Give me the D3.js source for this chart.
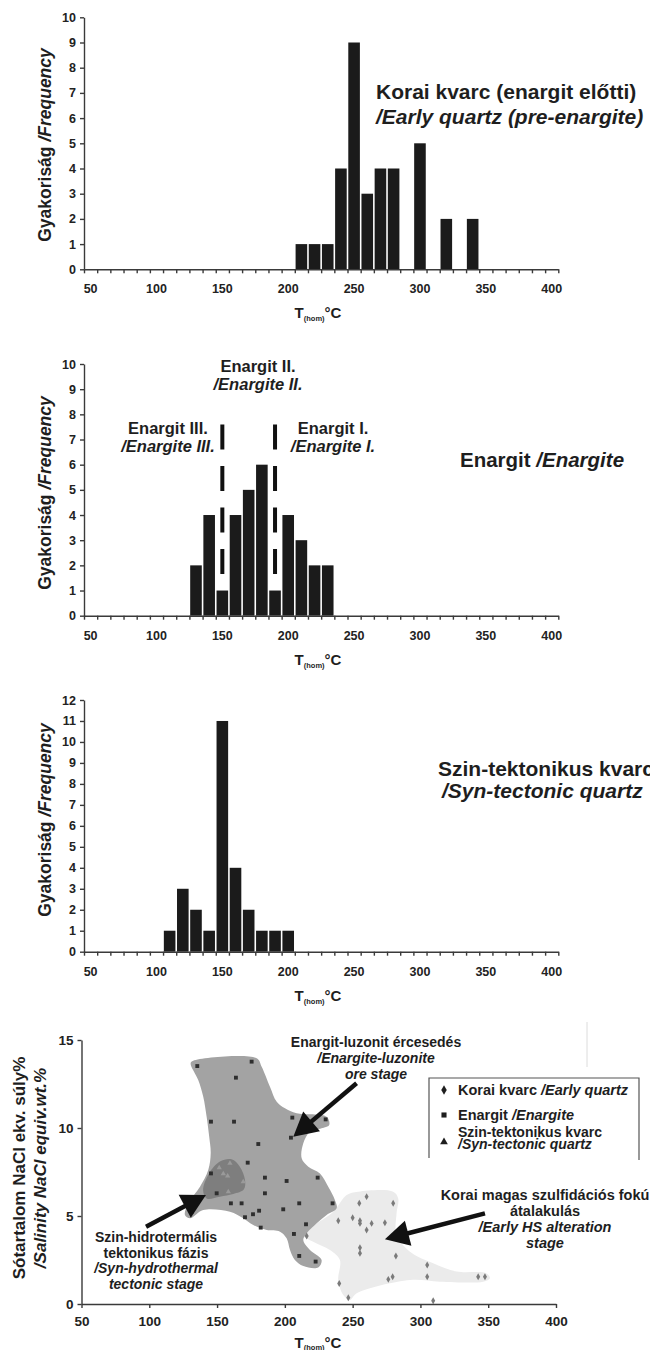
<!DOCTYPE html>
<meta charset="utf-8">
<style>
  body { margin: 0; background: #fff; }
  svg { display: block; font-family: 'Liberation Sans', Arial, sans-serif; font-weight: bold; fill: #1e1e1e; }
  .axis path, .axis line { stroke: #3a3a3a; stroke-width: 1.4; }
  .axis text { font-family: 'Liberation Sans', Arial, sans-serif; font-weight: bold; font-size: 12.5px; fill: #222; }
  .it { font-style: italic; }
</style>
<script src="https://d3js.org/d3.v7.min.js"></script>
<body>
<div id="chart"></div>
<script>
  // histogram categories, T(hom) °C
  let binLabels = [50,60,70,80,90,100,110,120,130,140,150,160,170,180,190,200,210,220,230,240,250,260,270,280,290,300,310,320,330,340,350,360,370,380,390,400];
  let tickLabels = [50,100,150,200,250,300,350,400];

  // korai kvarc / early quartz
  let earlyBins = [210,220,230,240,250,260,270,280,300,320,340];
  let earlyFreq = [1,1,1,4,9,3,4,4,5,2,2];

  // enargit / enargite
  let enargiteBins = [130,140,150,160,170,180,190,200,210,220,230];
  let enargiteFreq = [2,4,1,4,5,6,1,4,3,2,2];
  let stageDividers = [150, 190];

  // szin-tektonikus kvarc / syn-tectonic quartz
  let synBins = [110,120,130,140,150,160,170,180,190,200];
  let synFreq = [1,3,2,1,11,4,2,1,1,1];

  // salinity vs T(hom) scatter: [T, wt%]
  let quartzPts = [[260.3,6.1],[254.9,5.72],[279.9,5.72],[239.4,4.73],[250,4.9],[255.4,4.73],[255.4,4.58],[264,4.58],[273.8,4.62],[260.3,4.2],[216.1,3.86],[255.4,3.2],[255.4,2.88],[281.9,2.73],[305,2.22],[305,1.55],[279.5,1.55],[276.3,1.4],[342.6,1.55],[347.6,1.55],[240.1,1.17],[246.8,0.36],[309.4,0.19]];
  let enargitePts = [[135.4,13.52],[175.5,13.77],[163.9,12.86],[145.5,10.36],[162.5,10.36],[205.5,10.59],[230.1,10.49],[204.5,9.45],[180.4,9.09],[172.6,8.03],[145.5,7.42],[185.3,7.18],[201.3,6.99],[224.2,7.18],[131.3,5.25],[160.2,5.72],[168.1,5.72],[185.3,6.29],[210.6,5.72],[235.2,5.72],[198.8,5.38],[176.5,5.1],[181,5.3],[170.6,4.93],[215.6,4.53],[182.2,4.34],[206.7,3.98],[210.6,2.73],[222.7,2.41],[149.7,6.29]];
  let synPts = [[151.6,7.74],[159.5,8.0],[154.6,7.4],[157.8,7.27],[169.3,6.95],[158.3,6.38]];

  // field outlines
  let hsZone = [[213.6,3.92],[235.7,5.24],[245.6,6.19],[254.1,6.38],[279.9,6.38],[283.6,6.0],[282.4,5.15],[282.4,3.92],[292.3,2.97],[309.4,2.31],[326.7,1.84],[348.8,1.74],[351.3,1.46],[346.3,1.27],[314.4,1.27],[292.3,1.36],[253,0.61],[248,0.23],[243.1,0.51],[239.4,1.36],[240.6,2.5],[233.3,3.07],[220.9,3.54]];
  let oreZone = [[130.5,13.68],[132.4,13.82],[179.2,13.96],[182.9,13.48],[189,12.35],[194,11.49],[200.1,11.12],[208.7,10.84],[230.8,10.64],[232.7,10.17],[227.1,9.98],[218.5,9.79],[213.6,9.13],[212.4,8.28],[217.3,7.8],[225.9,7.42],[232,6.66],[236.9,5.91],[238.2,5.44],[230.8,5.06],[223.5,4.59],[216.1,4.02],[213.6,3.64],[218.5,3.07],[227.1,2.5],[224.6,2.08],[213.6,2.16],[207.4,2.5],[203.8,3.07],[201.3,3.73],[196.4,4.11],[186.6,4.2],[176.7,4.49],[169.3,4.87],[159.5,5.24],[139.8,5.34],[130,4.87],[126.3,5.06],[128.8,5.72],[137.4,6.66],[143.5,7.61],[145.3,8.56],[144.2,9.5],[142.3,10.64],[139.8,11.78],[136.1,12.73]];
  let tectZone = [[139.7,6.48],[144.1,7.42],[152.1,8.09],[160.7,8.22],[166.8,7.8],[170.6,7.05],[169.8,6.52],[161.9,6.25],[152.1,6.1],[142.3,6.0]];

  // arrows [tail, tip] in data units
  let arrows = [
    [[252.9,12.54],[206.2,9.5]],
    [[97.6,4.39],[141.8,6.19]],
    [[347.6,5.15],[273.8,3.68]]
  ];

  let svg = d3.select("#chart").append("svg")
    .attr("width", 650)
    .attr("height", 1350);

  // one histogram panel
  function histogram(cfg) {
    let g = svg.append("g");

    let x = d3.scaleBand()
      .domain(binLabels)
      .range([84, 558.3])
      .paddingInner(0.12)
      .paddingOuter(0.06);
    let edges = d3.scaleLinear().domain([45, 405]).range([84, 558.3]);
    let y = d3.scaleLinear().domain([0, cfg.yMax]).range([cfg.y0, cfg.yTop]);

    g.selectAll("rect")
      .data(cfg.bins.map((b, i) => ({bin: b, n: cfg.freq[i]})))
      .join("rect")
      .attr("x", d => x(d.bin))
      .attr("width", x.bandwidth())
      .attr("y", d => y(d.n))
      .attr("height", d => y(0) - y(d.n))
      .attr("fill", "#1b1b1b");

    // tick marks between categories
    g.append("g").attr("class", "axis")
      .attr("transform", `translate(0,${cfg.y0})`)
      .call(d3.axisBottom(edges).tickValues(d3.range(45, 406, 10)).tickFormat("").tickSize(4).tickSizeOuter(0));
    // category labels
    g.append("g").attr("class", "axis")
      .attr("transform", `translate(0,${cfg.y0})`)
      .call(d3.axisBottom(x).tickValues(tickLabels).tickSize(0).tickPadding(15))
      .call(a => a.select(".domain").remove());

    g.append("g").attr("class", "axis")
      .attr("transform", "translate(84,0)")
      .call(d3.axisLeft(y).ticks(cfg.yMax).tickSize(4).tickSizeOuter(0).tickPadding(4));

    // y title
    let yt = g.append("text")
      .attr("transform", `translate(51,${cfg.yMid}) rotate(-90)`)
      .attr("text-anchor", "middle")
      .style("font-size", "17.5px");
    yt.append("tspan").text("Gyakoriság ");
    yt.append("tspan").attr("class", "it").text("/Frequency");

    // x title
    let xt = g.append("text")
      .attr("x", 318).attr("y", cfg.y0 + 49)
      .attr("text-anchor", "middle")
      .style("font-size", "15px");
    xt.append("tspan").text("T");
    xt.append("tspan").attr("dy", 3).style("font-size", "7.5px").text("(hom)");
    xt.append("tspan").attr("dy", -3).text("°C");

    return {g, x, y};
  }

  function label(g, lines, x, y0, dy, size, anchor) {
    lines.forEach((l, i) => {
      g.append("text")
        .attr("x", x).attr("y", y0 + i * dy)
        .attr("text-anchor", anchor || "start")
        .attr("class", l.it ? "it" : null)
        .style("font-size", size + "px")
        .text(l.t);
    });
  }

  // ---- 1. early quartz
  let h1 = histogram({bins: earlyBins, freq: earlyFreq, yMax: 10, y0: 269.3, yTop: 17.3, yMid: 145});
  label(h1.g, [{t: "Korai kvarc (enargit előtti)"}, {t: "/Early quartz (pre-enargite)", it: true}], 376, 99, 24.5, 21);

  // ---- 2. enargite
  let h2 = histogram({bins: enargiteBins, freq: enargiteFreq, yMax: 10, y0: 615.7, yTop: 364, yMid: 493});
  h2.g.selectAll(".divider")
    .data(stageDividers)
    .join("line")
    .attr("class", "divider")
    .attr("x1", d => h2.x(d) + h2.x.bandwidth() / 2)
    .attr("x2", d => h2.x(d) + h2.x.bandwidth() / 2)
    .attr("y1", h2.y(7.6))
    .attr("y2", h2.y(1.0))
    .attr("stroke", "#111")
    .attr("stroke-width", 4)
    .attr("stroke-dasharray", "25,16.5");
  label(h2.g, [{t: "Enargit II."}, {t: "/Enargite II.", it: true}], 258, 372, 18, 16.5, "middle");
  label(h2.g, [{t: "Enargit III."}, {t: "/Enargite III.", it: true}], 168, 434, 18, 16.5, "middle");
  label(h2.g, [{t: "Enargit I."}, {t: "/Enargite I.", it: true}], 333, 434, 18, 16.5, "middle");
  let big = h2.g.append("text").attr("x", 460).attr("y", 467).style("font-size", "20.5px");
  big.append("tspan").text("Enargit ");
  big.append("tspan").attr("class", "it").text("/Enargite");

  // ---- 3. syn-tectonic quartz
  let h3 = histogram({bins: synBins, freq: synFreq, yMax: 12, y0: 951.7, yTop: 700, yMid: 820});
  label(h3.g, [{t: "Szin-tektonikus kvarc"}], 438, 776, 0, 21);
  label(h3.g, [{t: "/Syn-tectonic quartz", it: true}], 442, 798, 0, 21);

  // ---- 4. salinity scatter
  let sg = svg.append("g");
  let xs = d3.scaleLinear().domain([50, 400]).range([81.5, 556]);
  let ys = d3.scaleLinear().domain([0, 15]).range([1304, 1040]);

  let area = d3.line()
    .x(d => xs(d[0]))
    .y(d => ys(d[1]))
    .curve(d3.curveCatmullRomClosed.alpha(0.5));

  sg.append("path").attr("d", area(hsZone)).attr("fill", "#ebebeb");
  sg.append("path").attr("d", area(oreZone)).attr("fill", "#a3a3a3");
  sg.append("path").attr("d", area(tectZone)).attr("fill", "#7e7e7e");

  sg.selectAll(".q")
    .data(quartzPts)
    .join("path")
    .attr("class", "q")
    .attr("transform", d => `translate(${xs(d[0])},${ys(d[1])})`)
    .attr("d", d3.symbol(d3.symbolDiamond, 14))
    .attr("fill", "#7a7a7a");
  sg.selectAll(".e")
    .data(enargitePts)
    .join("path")
    .attr("class", "e")
    .attr("transform", d => `translate(${xs(d[0])},${ys(d[1])})`)
    .attr("d", d3.symbol(d3.symbolSquare, 15))
    .attr("fill", "#2e2e2e");
  sg.selectAll(".t")
    .data(synPts)
    .join("path")
    .attr("class", "t")
    .attr("transform", d => `translate(${xs(d[0])},${ys(d[1])})`)
    .attr("d", d3.symbol(d3.symbolTriangle, 12))
    .attr("fill", "#9a9a9a");

  sg.append("g").attr("class", "axis")
    .attr("transform", "translate(0,1304)")
    .call(d3.axisBottom(xs).tickValues(tickLabels).tickSize(4).tickSizeOuter(0).tickPadding(8))
    .selectAll("text").style("font-size", "13.5px");
  sg.append("g").attr("class", "axis")
    .attr("transform", "translate(81.5,0)")
    .call(d3.axisLeft(ys).tickValues([0, 5, 10, 15]).tickSize(4).tickSizeOuter(0).tickPadding(4))
    .selectAll("text").style("font-size", "13.5px");

  // arrows
  arrows.forEach(a => {
    let x1 = xs(a[0][0]), y1 = ys(a[0][1]), x2 = xs(a[1][0]), y2 = ys(a[1][1]);
    let len = Math.hypot(x2 - x1, y2 - y1), ux = (x2 - x1) / len, uy = (y2 - y1) / len;
    let bx = x2 - ux * 24, by = y2 - uy * 24;
    sg.append("line")
      .attr("x1", x1).attr("y1", y1).attr("x2", bx + ux * 2).attr("y2", by + uy * 2)
      .attr("stroke", "#111").attr("stroke-width", 4.5);
    sg.append("path")
      .attr("d", `M${x2},${y2}L${bx - uy * 13},${by + ux * 13}L${bx + uy * 13},${by - ux * 13}Z`)
      .attr("fill", "#111");
  });

  label(sg, [{t: "Enargit-luzonit ércesedés"}, {t: "/Enargite-luzonite", it: true}, {t: "ore stage", it: true}], 376, 1047, 16, 14, "middle");
  label(sg, [{t: "Szin-hidrotermális"}, {t: "tektonikus fázis"}, {t: "/Syn-hydrothermal", it: true}, {t: "tectonic stage", it: true}], 156, 1242, 15.5, 14, "middle");
  label(sg, [{t: "Korai magas szulfidációs fokú"}, {t: "átalakulás"}, {t: "/Early HS alteration", it: true}, {t: "stage", it: true}], 545, 1200, 16, 14.5, "middle");

  // faint frame line left over right of the legend
  sg.append("line").attr("x1", 587).attr("x2", 587).attr("y1", 1022).attr("y2", 1067)
    .attr("stroke", "#dcdcdc").attr("stroke-width", 1);

  // legend (bottom edge cut off)
  sg.append("path")
    .attr("d", "M429,1158V1078H639V1160")
    .attr("fill", "none").attr("stroke", "#555").attr("stroke-width", 1.2);
  let legendRows = [
    {sym: d3.symbolDiamond, y: 1090, lines: [["Korai kvarc ", "/Early quartz"]]},
    {sym: d3.symbolSquare, y: 1115, lines: [["Enargit ", "/Enargite"]]},
    {sym: d3.symbolTriangle, y: 1142, lines: [["Szin-tektonikus kvarc", ""], ["", "/Syn-tectonic quartz"]]}
  ];
  legendRows.forEach(r => {
    sg.append("path")
      .attr("transform", `translate(444,${r.y})`)
      .attr("d", d3.symbol(r.sym, 26))
      .attr("fill", "#1e1e1e");
    r.lines.forEach((l, i) => {
      let t = sg.append("text")
        .attr("x", 458)
        .attr("y", r.lines.length > 1 ? r.y - 5 + i * 12 : r.y + 5)
        .style("font-size", r.lines.length > 1 ? "14px" : "14.5px");
      t.append("tspan").text(l[0]);
      t.append("tspan").attr("class", "it").text(l[1]);
    });
  });

  // y title
  sg.append("text")
    .attr("transform", "translate(25,1168) rotate(-90)")
    .attr("text-anchor", "middle").style("font-size", "17px")
    .text("Sótartalom NaCl ekv. súly%");
  sg.append("text")
    .attr("transform", "translate(46,1168) rotate(-90)")
    .attr("text-anchor", "middle").style("font-size", "17px")
    .attr("class", "it")
    .text("/Salinity NaCl equiv.wt.%");

  // x title (cut by the page edge)
  let sx = sg.append("text")
    .attr("x", 318).attr("y", 1348)
    .attr("text-anchor", "middle")
    .style("font-size", "15px");
  sx.append("tspan").text("T");
  sx.append("tspan").attr("dy", 2).style("font-size", "7.5px").text("(hom)");
  sx.append("tspan").attr("dy", -2).text("°C");
</script>
</body>
